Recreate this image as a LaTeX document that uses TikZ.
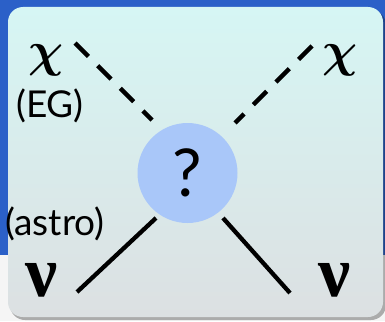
\documentclass[tikz,border=0pt]{standalone}
\usepackage{bm}
\usepackage{fontspec}
\setmainfont{Liberation Serif}
\newfontfamily\gill{Lato}
\definecolor{slideblue}{HTML}{2B60C8}
\definecolor{boxtop}{HTML}{D6F6F4}
\definecolor{boxbot}{HTML}{DCE0E2}
\definecolor{blobfill}{HTML}{A9C7F9}
\begin{document}
\begin{tikzpicture}[x=1pt,y=-1pt,
    leg/.style={line width=4.3pt},
    dashleg/.style={leg,dash pattern=on 19pt off 13pt},
    sans/.style={font=\gill\fontsize{37}{37}\selectfont,inner sep=0pt},
    chi/.style={scale=4.9,inner sep=0pt},
    nu/.style={font=\bfseries\fontsize{72}{72}\selectfont,inner sep=0pt}]
    \useasboundingbox (0,0) rectangle (385,321);
    % slide behind the box
    \fill[slideblue] (0,0) rectangle (385,255);
    \fill[gray!8] (0,255) rectangle (385,321);
    \fill[black,opacity=.3,rounded corners=15pt] (10,10) rectangle (386,320);
    \shade[rounded corners=15pt,top color=boxtop,bottom color=boxbot] (8,7) rectangle (383,317);
    % vertex
    \node[circle,fill=blobfill,minimum size=100pt,inner sep=0pt,
        font=\gill\fontsize{66}{66}\selectfont] (blob) at (187.5,173) {?};
    % particles
    \node[chi] (chiL) at (46,60) {$\bm{\chi}$};
    \node[chi] (chiR) at (340,60) {$\bm{\chi}$};
    \node[sans] (eg) at (50,106) {(EG)};
    \node[sans] (astro) at (55,224) {(astro)};
    \node[nu] (nuL) at (42,280) {ν};
    \node[nu] (nuR) at (335,280) {ν};
    % legs
    \coordinate (ulOut) at (75,43);   \coordinate (ulIn) at (152,120);
    \coordinate (urOut) at (312,46);  \coordinate (urIn) at (235,123);
    \coordinate (llOut) at (77,292);  \coordinate (llIn) at (156,218);
    \coordinate (lrOut) at (290,293); \coordinate (lrIn) at (223,218);
    \draw[dashleg] (ulOut)--(ulIn);
    \draw[dashleg] (urOut)--(urIn);
    \draw[leg] (llOut)--(llIn);
    \draw[leg] (lrOut)--(lrIn);
\end{tikzpicture}
\end{document}
